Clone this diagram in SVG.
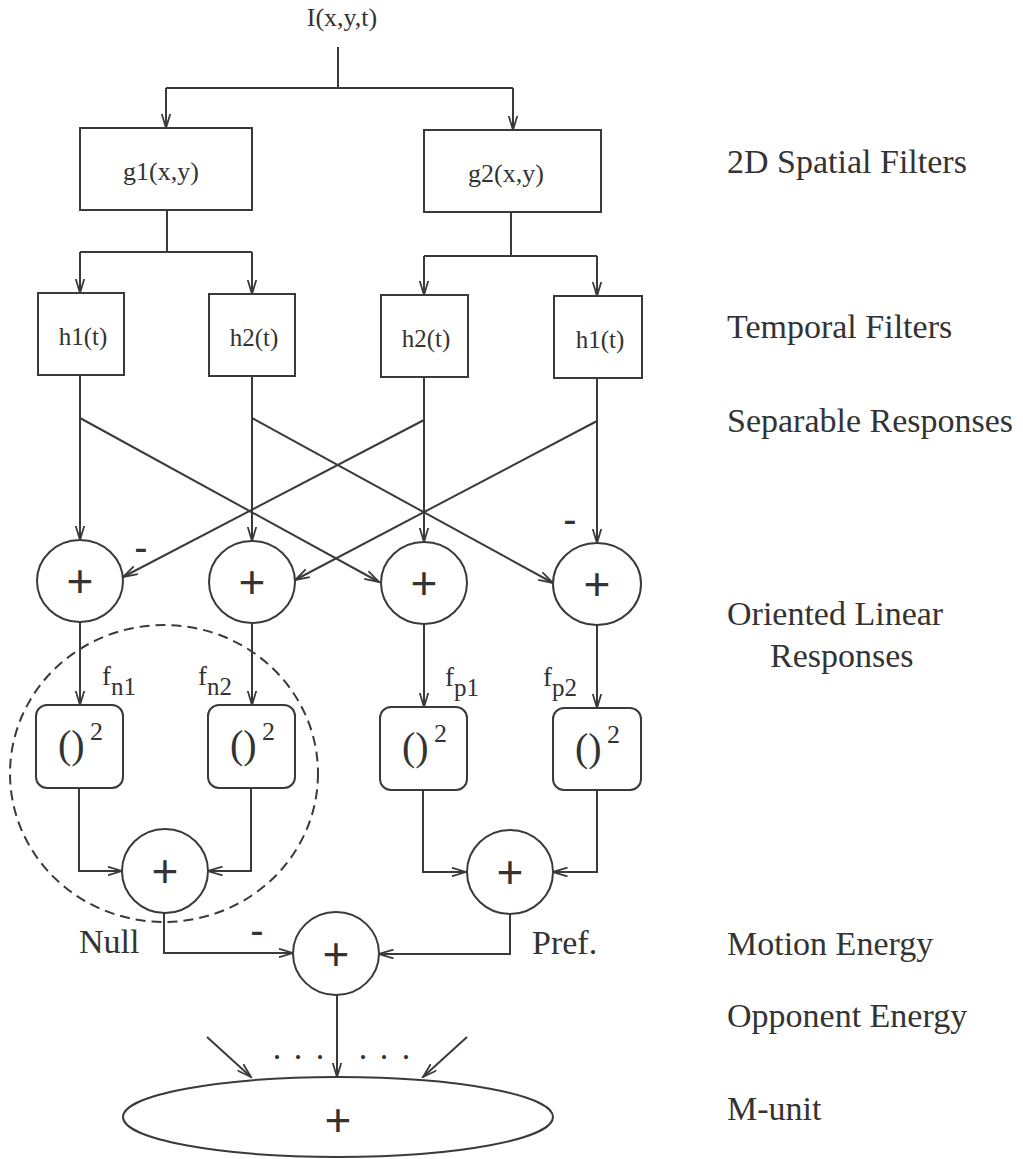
<svg xmlns="http://www.w3.org/2000/svg" width="1023" height="1159" viewBox="0 0 1023 1159">
<style>
.ln{fill:none;stroke:#3a3a3a;stroke-width:2}
.bx{fill:#fff;stroke:#3a3a3a;stroke-width:2}
.t{font-family:"Liberation Serif","Times New Roman",serif;fill:#333}
.lab{font-family:"Liberation Serif","Times New Roman",serif;fill:#333;font-size:34px}
.fn{font-family:"Liberation Serif","Times New Roman",serif;fill:#333;font-size:27px}
.sub{font-size:25px}
.pl{font-family:"Liberation Sans",Arial,sans-serif;fill:#333;font-size:46px;text-anchor:middle}
.mi{font-family:"Liberation Sans",Arial,sans-serif;fill:#333;font-size:40px;text-anchor:middle}
.par{font-family:"Liberation Serif","Times New Roman",serif;fill:#333;font-size:40px}
.sup{font-size:26px}
.ar{marker-end:url(#arr)}
</style>
<defs>
<marker id="arr" viewBox="0 0 16 10" markerWidth="16" markerHeight="10" refX="14.5" refY="5" orient="auto" markerUnits="userSpaceOnUse">
<path d="M0,0.6 L14.5,5 L0,9.4" fill="none" stroke="#3a3a3a" stroke-width="1.8"/>
</marker>
</defs>
<rect width="1023" height="1159" fill="#fff"/>

<g id="connectors">
<path class="ln" d="M338,47 V88"/>
<path class="ln" d="M166,88 H513"/>
<path class="ln ar" d="M166,88 V128"/>
<path class="ln ar" d="M513,88 V130"/>
<path class="ln" d="M167,210 V252 M80,252 H252"/>
<path class="ln ar" d="M80,252 V293"/>
<path class="ln ar" d="M252,252 V294"/>
<path class="ln" d="M511,212 V256 M424,256 H597"/>
<path class="ln ar" d="M424,256 V295"/>
<path class="ln ar" d="M597,256 V296"/>
<path class="ln ar" d="M80,375 V540"/>
<path class="ln ar" d="M252,376 V541"/>
<path class="ln ar" d="M424,377 V542"/>
<path class="ln ar" d="M597,378 V543"/>
<path class="ln ar" d="M80,418 L379,582"/>
<path class="ln ar" d="M252,418 L553,583"/>
<path class="ln ar" d="M424,420 L123,577"/>
<path class="ln ar" d="M597,421 L295,580"/>
<path class="ln ar" d="M80,622 V705"/>
<path class="ln ar" d="M252,623 V705"/>
<path class="ln ar" d="M424,624 V707"/>
<path class="ln ar" d="M597,625 V708"/>
<path class="ln ar" d="M79,788 V871 H122"/>
<path class="ln ar" d="M251,788 V871 H208"/>
<path class="ln ar" d="M423,790 V872 H466"/>
<path class="ln ar" d="M597,790 V872 H553"/>
<path class="ln ar" d="M164,913 V953 H293"/>
<path class="ln ar" d="M510,914 V954 H379"/>
<path class="ln ar" d="M337,995 V1077"/>
<path class="ln ar" d="M207,1037 L251,1077"/>
<path class="ln ar" d="M467,1037 L423,1077"/>
</g>

<g id="input"><text class="t" x="342" y="26" font-size="26" text-anchor="middle">I(x,y,t)</text></g>

<g id="g1"><rect class="bx" x="80" y="128" width="172" height="82"/><text class="t" x="161" y="180" font-size="26" text-anchor="middle">g1(x,y)</text></g>
<g id="g2"><rect class="bx" x="424" y="130" width="177" height="82"/><text class="t" x="506" y="182" font-size="26" text-anchor="middle">g2(x,y)</text></g>

<g id="h1a"><rect class="bx" x="38" y="293" width="86" height="82"/><text class="t" x="83" y="345" font-size="25" text-anchor="middle">h1(t)</text></g>
<g id="h2a"><rect class="bx" x="209" y="294" width="86" height="82"/><text class="t" x="254" y="346" font-size="25" text-anchor="middle">h2(t)</text></g>
<g id="h2b"><rect class="bx" x="381" y="295" width="87" height="82"/><text class="t" x="426" y="347" font-size="25" text-anchor="middle">h2(t)</text></g>
<g id="h1b"><rect class="bx" x="554" y="296" width="88" height="82"/><text class="t" x="600" y="348" font-size="25" text-anchor="middle">h1(t)</text></g>

<g id="sum1"><ellipse class="bx" cx="80" cy="581" rx="43" ry="41"/><text class="pl" x="80" y="597">+</text></g>
<g id="sum2"><ellipse class="bx" cx="252" cy="582" rx="43" ry="41"/><text class="pl" x="252" y="598">+</text></g>
<g id="sum3"><ellipse class="bx" cx="424" cy="583" rx="43" ry="41"/><text class="pl" x="424" y="599">+</text></g>
<g id="sum4"><ellipse class="bx" cx="597" cy="584" rx="44" ry="41"/><text class="pl" x="597" y="600">+</text></g>

<g id="signs">
<text class="mi" x="141" y="561">-</text>
<text class="mi" x="570" y="533">-</text>
<text class="mi" x="257" y="944">-</text>
</g>

<g id="flabels">
<text class="fn" x="102" y="685">f<tspan class="sub" dy="10">n1</tspan></text>
<text class="fn" x="198" y="685">f<tspan class="sub" dy="10">n2</tspan></text>
<text class="fn" x="445" y="686">f<tspan class="sub" dy="10">p1</tspan></text>
<text class="fn" x="543" y="686">f<tspan class="sub" dy="10">p2</tspan></text>
</g>

<g id="sq1"><rect class="bx" x="36" y="705" width="87" height="83" rx="11"/><text class="par" x="58" y="758">()<tspan class="sup" x="90" y="740">2</tspan></text></g>
<g id="sq2"><rect class="bx" x="208" y="705" width="87" height="83" rx="11"/><text class="par" x="230" y="758">()<tspan class="sup" x="262" y="740">2</tspan></text></g>
<g id="sq3"><rect class="bx" x="380" y="707" width="87" height="83" rx="11"/><text class="par" x="402" y="760">()<tspan class="sup" x="434" y="742">2</tspan></text></g>
<g id="sq4"><rect class="bx" x="553" y="708" width="88" height="82" rx="11"/><text class="par" x="575" y="761">()<tspan class="sup" x="607" y="743">2</tspan></text></g>

<g id="null-group"><ellipse cx="164" cy="773.5" rx="154" ry="148.5" fill="none" stroke="#3a3a3a" stroke-width="2" stroke-dasharray="10 6"/></g>

<g id="sumNull"><ellipse class="bx" cx="165" cy="871" rx="43" ry="42"/><text class="pl" x="165" y="887">+</text></g>
<g id="sumPref"><ellipse class="bx" cx="510" cy="872" rx="43" ry="42"/><text class="pl" x="510" y="888">+</text></g>
<g id="opponent"><ellipse class="bx" cx="336" cy="953.5" rx="43" ry="41.5"/><text class="pl" x="336" y="970">+</text></g>

<g id="nullpref">
<text class="lab" x="79" y="953">Null</text>
<text class="lab" x="532" y="954">Pref.</text>
</g>

<g id="dots"><text class="lab" y="1059" text-anchor="middle"><tspan x="277">.</tspan><tspan x="298">.</tspan><tspan x="320">.</tspan><tspan x="363">.</tspan><tspan x="384">.</tspan><tspan x="406">.</tspan></text></g>

<g id="munit"><ellipse class="bx" cx="338" cy="1117" rx="215" ry="40"/><text class="pl" x="338" y="1136">+</text></g>

<g id="stage-labels">
<text class="lab" x="727" y="173">2D Spatial Filters</text>
<text class="lab" x="727" y="338">Temporal Filters</text>
<text class="lab" x="727" y="432">Separable Responses</text>
<text class="lab" x="727" y="625">Oriented Linear</text>
<text class="lab" x="770" y="667">Responses</text>
<text class="lab" x="727" y="955">Motion Energy</text>
<text class="lab" x="727" y="1027">Opponent Energy</text>
<text class="lab" x="727" y="1120">M-unit</text>
</g>
</svg>
